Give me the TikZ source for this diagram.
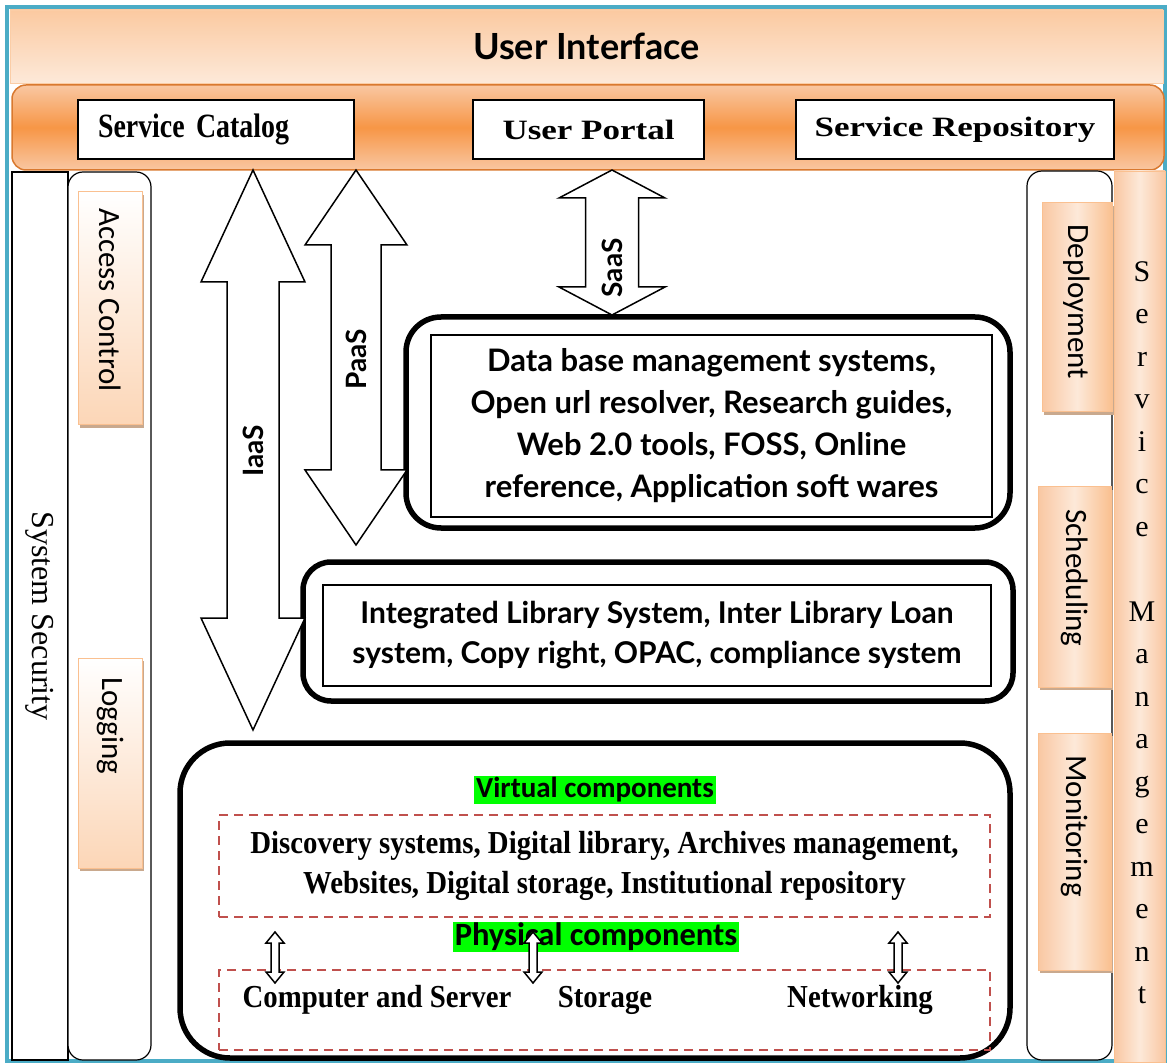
\documentclass[tikz,border=0pt]{standalone}
\usepackage{fontspec}
\setmainfont{Liberation Serif}
\newfontfamily\calfont{Carlito}
\newfontfamily\latofont{Lato}
\newfontfamily\wideserif[FakeStretch=1.25]{Liberation Serif}
\newfontfamily\narrowserif[FakeStretch=0.82]{Liberation Serif}
\newfontfamily\condserif[FakeStretch=0.9]{Liberation Serif}
\usetikzlibrary{calc,shadows}

\definecolor{frameblue}{HTML}{4BACC6}
\definecolor{peach}{HTML}{FAC090}
\definecolor{peachlt}{HTML}{FDE9D9}
\definecolor{peachmd}{HTML}{F9C7A2}
\definecolor{orangebar}{HTML}{F79646}
\definecolor{orangedk}{HTML}{D9792F}
\definecolor{shadowbr}{HTML}{C9A98E}
\definecolor{dashred}{HTML}{C0504D}
\definecolor{hlgreen}{HTML}{00FF00}

% top tip, bottom tip, shaft half width, head half width, head length
\newcommand\layerarrow[5]{%
  \draw[blockarrow] (#1) -- ($(#1)+(#4,#5)$) -- ($(#1)+(#3,#5)$)
    -- ($(#2)+(#3,-#5)$) -- ($(#2)+(#4,-#5)$) -- (#2)
    -- ($(#2)+(-#4,-#5)$) -- ($(#2)+(-#3,-#5)$)
    -- ($(#1)+(-#3,#5)$) -- ($(#1)+(-#4,#5)$) -- cycle;}

\begin{document}
\begin{tikzpicture}[x=1pt, y=-1pt, inner sep=0pt,
  catbox/.style={draw, line width=1.5pt, fill=white, minimum height=59pt,
    font=\wideserif\fontsize{28}{30}\selectfont\bfseries},
  column/.style={draw, line width=1.2pt, fill=white, minimum height=888pt},
  tabbox/.style={draw=peach, line width=1pt, minimum width=64pt,
    drop shadow={shadow xshift=2pt, shadow yshift=-3pt, fill=shadowbr, opacity=1}},
  lefttab/.style={tabbox, top color=white, bottom color=peach!65},
  righttab/.style={tabbox, minimum width=73pt, left color=peachmd,
    right color=peach, middle color=peachlt},
  tablbl/.style={rotate=-90, font=\calfont\fontsize{31}{34}\selectfont},
  layer/.style={draw, line width=5.5pt, fill=white, rounded corners=#1},
  inbox/.style={draw, line width=1.5pt, fill=white,
    font=\latofont\bfseries\fontsize{31}{42}\selectfont, align=center},
  dashbox/.style={draw=dashred, line width=2pt, dash pattern=on 9pt off 6pt,
    minimum width=771pt, font=\condserif\bfseries\fontsize{32}{40}\selectfont, align=center},
  greenlbl/.style={fill=hlgreen, inner xsep=2pt, inner ysep=1.5pt,
    font=\calfont\bfseries\fontsize{29}{30}\selectfont},
  blockarrow/.style={draw, line width=1.5pt, fill=white},
  arrlbl/.style={rotate=90, font=\latofont\bfseries\fontsize{28}{30}\selectfont},
  comp/.style={font=\condserif\bfseries\fontsize{32}{34}\selectfont}]

\useasboundingbox (0,0) rectangle (1168,1064);
\draw[frameblue, line width=4pt] (7,7) rectangle (1165,1061);

\node[draw=peach!80, minimum width=1153pt, minimum height=73pt,
  top color=peach!85, bottom color=peachlt,
  font=\latofont\bfseries\fontsize{36}{38}\selectfont] (ui) at (586.5,46.5) {User Interface};
\node[draw=orangedk, line width=1.5pt, rounded corners=14pt, minimum width=1152pt,
  minimum height=85pt, top color=peachmd, bottom color=peachmd,
  middle color=orangebar] (bar) at (588,127.5) {};

\node[catbox, minimum width=276pt, text width=236pt, align=left,
  font=\narrowserif\fontsize{34}{36}\selectfont\bfseries] (catalog) at (216,129.5) {Service Catalog};
\node[catbox, minimum width=231pt] (portal) at (588.5,129.5) {User Portal};
\node[catbox, minimum width=318pt] (repo) at (955,129.5) {Service Repository};

\node[column, minimum width=56pt] (security) at (40,616) {};
\node[rotate=-90, font=\fontsize{32}{34}\selectfont] at (security) {System Security};
\node[column, minimum width=83pt, rounded corners=15pt] (leftcol) at (109.5,616) {};
\node[lefttab, minimum height=233pt] (access) at (110,308.5) {};
\node[tablbl] at (110,300) {Access Control};
\node[lefttab, minimum height=210pt] (logging) at (110,763) {};
\node[tablbl] at (110,726) {Logging};

\node[column, minimum width=85pt, minimum height=889pt, rounded corners=15pt] (rightcol) at (1069.5,615.5) {};
\node[draw=peach, left color=peachmd, right color=peachmd, middle color=peachlt,
  minimum width=51pt, minimum height=891pt] (svcmgmt) at (1139.5,616.5) {};
\node[align=center, anchor=north, font=\fontsize{30}{42.5}\selectfont] (svclabel) at (1142,261)
  {S\\e\\r\\v\\i\\c\\e\\[42.5pt]M\\a\\n\\a\\g\\e\\m\\e\\n\\t};
\node[righttab, minimum width=70pt, minimum height=209pt] (deploy) at (1077,307.5) {};
\node[tablbl] at (1077,302) {Deployment};
\node[righttab, minimum height=200pt] (sched) at (1074.5,587) {};
\node[tablbl] at (1074.5,578) {Scheduling};
\node[righttab, minimum height=237pt] (monitor) at (1074.5,851.5) {};
\node[tablbl] at (1074.5,826) {Monitoring};

\node[layer=35pt, minimum width=604pt, minimum height=211pt] (appsout) at (708,422.5) {};
\node[inbox, minimum width=561pt, minimum height=182pt] (apps) at (711.5,426)
  {Data base management systems,\\Open url resolver, Research guides,\\Web 2.0 tools, FOSS, Online\\reference, Application soft wares};
\node[layer=28pt, minimum width=710pt, minimum height=139pt] (ilsout) at (658,631.5) {};
\node[inbox, minimum width=668pt, minimum height=101pt, font=\latofont\bfseries\fontsize{30}{40}\selectfont] (ils) at (657,635.5)
  {Integrated Library System, Inter Library Loan\\system, Copy right, OPAC, compliance system};
\node[layer=50pt, minimum width=830pt, minimum height=315pt] (infra) at (595,900.5) {};

\node[greenlbl] (virtual) at (595,790) {Virtual components};
\node[dashbox, minimum height=102pt] (vbox) at (604.5,866)
  {Discovery systems, Digital library, Archives management,\\Websites, Digital storage, Institutional repository};
\node[dashbox, minimum height=80pt] (pbox) at (604.5,1010) {};
\node[greenlbl, font=\calfont\bfseries\fontsize{32.5}{34}\selectfont] (physical) at (596,937) {Physical components};
\node[comp] (server) at (377,1000) {Computer and Server};
\node[comp] (storage) at (605,1000) {Storage};
\node[comp] (network) at (860,1000) {Networking};

\coordinate (iaas top) at (253,170);
\coordinate (iaas bot) at (253,730);
\coordinate (paas top) at (356,170);
\coordinate (paas bot) at (356,545);
\coordinate (saas top) at (612,170);
\coordinate (saas bot) at (612,315);
\layerarrow{iaas top}{iaas bot}{26}{52}{112}
\layerarrow{paas top}{paas bot}{25}{51}{75}
\layerarrow{saas top}{saas bot}{26.5}{53}{28}
\node[arrlbl] at (253,451) {IaaS};
\node[arrlbl] at (356,359) {PaaS};
\node[arrlbl] at (612,268) {SaaS};

\foreach \xx/\nm in {275/a, 533/b, 898/c} {
  \coordinate (link \nm\space top) at (\xx,932);
  \coordinate (link \nm\space bot) at (\xx,983);
  \layerarrow{link \nm\space top}{link \nm\space bot}{4}{9}{11}
}
\end{tikzpicture}
\end{document}
